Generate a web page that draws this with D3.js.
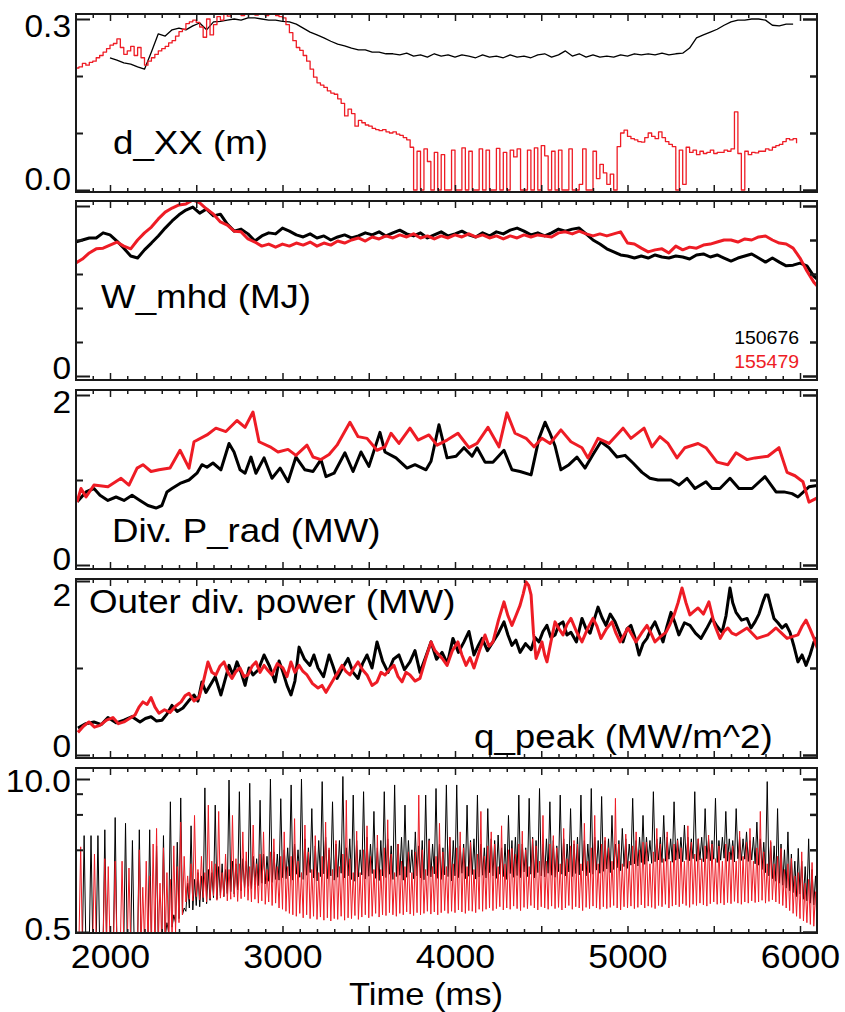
<!DOCTYPE html>
<html><head><meta charset="utf-8">
<script src="https://cdn.jsdelivr.net/npm/d3@7"></script>
<style>
body{margin:0;background:#fff}
text{font-family:"Liberation Sans",Arial,Helvetica,sans-serif}
</style>
</head><body>
<svg id="c" width="845" height="1012"></svg>
<script>
// ---------------- data ----------------
const shotBlack = "150676", shotRed = "155479";
const timeTicks = [2000, 3000, 4000, 5000, 6000];

// d_XX (m)
const dxxBlackStart = 2000, dxxBlackStep = 40;
const dxxBlack = [0.232,0.228,0.223,0.221,0.216,0.212,0.242,0.274,0.270,0.281,
0.284,0.281,0.288,0.293,0.281,0.295,0.296,0.298,0.300,0.298,
0.302,0.302,0.300,0.298,0.298,0.296,0.295,0.291,0.284,0.277,
0.272,0.267,0.261,0.256,0.253,0.249,0.246,0.246,0.242,0.242,
0.239,0.239,0.237,0.240,0.235,0.237,0.233,0.239,0.235,0.237,
0.233,0.237,0.235,0.232,0.237,0.233,0.235,0.232,0.237,0.233,
0.235,0.232,0.237,0.239,0.233,0.237,0.244,0.235,0.239,0.233,
0.237,0.233,0.235,0.233,0.237,0.235,0.239,0.237,0.239,0.237,
0.240,0.237,0.239,0.240,0.249,0.267,0.272,0.277,0.282,0.289,
0.295,0.298,0.298,0.300,0.300,0.298,0.289,0.288,0.291,0.291];
const dxxRedStart = 1800, dxxRedStep = 20;
const dxxRed = [0.214,0.216,0.222,0.219,0.224,0.226,0.232,0.236,0.242,0.248,
0.254,0.257,0.265,0.250,0.238,0.244,0.252,0.236,0.250,0.232,
0.219,0.226,0.232,0.238,0.244,0.248,0.252,0.258,0.262,0.270,
0.278,0.282,0.292,0.295,0.298,0.294,0.286,0.268,0.300,0.272,
0.290,0.304,0.298,0.308,0.305,0.310,0.308,0.312,0.306,0.310,
0.315,0.309,0.307,0.312,0.310,0.306,0.311,0.308,0.306,0.304,
0.302,0.290,0.276,0.262,0.250,0.245,0.236,0.226,0.212,0.198,
0.188,0.184,0.180,0.174,0.170,0.168,0.160,0.152,0.130,0.142,
0.134,0.112,0.122,0.118,0.114,0.112,0.108,0.106,0.104,0.106,
0.102,0.100,0.102,0.098,0.096,0.092,0.088,0.075,0,0.068,
0,0.072,0.05,0,0.066,0,0.062,0,0,0.07,
0,0,0.074,0,0.068,0,0,0.072,0,0.07,
0,0,0.073,0,0.066,0,0.07,0.058,0.072,0,
0,0.07,0,0.074,0,0.078,0.06,0,0.068,0,
0.07,0,0,0.072,0,0,0.01,0.072,0,0,
0.068,0.02,0.045,0.03,0.01,0.028,0,0.076,0.1,0.105,
0.094,0.09,0.088,0.085,0.084,0.092,0.1,0.094,0.09,0.102,
0.092,0.085,0.08,0.076,0,0.07,0.01,0.075,0.066,0.07,
0.062,0.068,0.064,0.066,0.07,0.064,0.066,0.066,0.07,0.068,
0.072,0.137,0.064,0,0.068,0.062,0.066,0.065,0.068,0.068,
0.072,0.07,0.075,0.078,0.08,0.085,0.09,0.088,0.09,0.082];

// W_mhd (MJ)
const wmhdStart = 1800, wmhdStep = 40;
const wmhdBlack = [3.94,4.0,4.06,4.06,4.21,4.15,3.97,3.76,3.53,3.47,
3.71,3.91,4.12,4.35,4.56,4.74,4.88,4.97,4.79,4.91,
4.71,4.76,4.47,4.26,4.32,4.18,3.97,4.12,4.21,4.18,
4.35,4.26,4.15,4.09,4.18,4.06,4.12,4.0,4.09,4.15,
4.06,4.12,4.21,4.15,4.24,4.12,4.21,4.29,4.18,4.12,
4.21,4.06,4.15,4.24,4.12,4.18,4.26,4.15,4.09,4.21,
4.12,4.24,4.18,4.29,4.35,4.26,4.15,4.21,4.12,4.21,
4.32,4.26,4.32,4.35,4.18,4.0,3.88,3.74,3.65,3.56,
3.53,3.47,3.53,3.47,3.56,3.50,3.47,3.53,3.50,3.44,
3.56,3.59,3.50,3.56,3.47,3.38,3.47,3.53,3.59,3.47,
3.35,3.47,3.35,3.24,3.26,3.32,3.24,2.94,2.76];
const wmhdRed = [3.32,3.44,3.62,3.74,3.76,3.85,3.94,3.82,3.74,4.0,
4.21,4.38,4.62,4.82,4.94,5.03,5.06,5.18,5.09,4.91,
4.76,4.53,4.44,4.26,4.24,4.03,3.94,3.82,3.88,3.79,
3.88,3.82,3.91,3.85,3.94,3.82,3.91,3.85,3.97,3.91,
4.0,4.06,3.97,4.09,4.03,4.12,4.06,4.15,4.09,4.18,
4.06,4.12,4.03,4.12,4.06,4.15,4.09,4.18,4.09,4.15,
4.06,4.12,4.03,4.12,4.06,4.15,4.09,4.15,4.12,4.09,
4.21,4.24,4.18,4.26,4.18,4.12,4.18,4.12,4.18,4.24,
3.91,3.88,3.76,3.65,3.71,3.74,3.62,3.82,3.71,3.79,
3.76,3.85,3.88,3.94,4.0,4.0,3.94,4.03,4.0,4.09,
4.12,4.0,3.91,3.88,3.76,3.47,3.09,2.76,2.53];

// Div. P_rad (MW)
const pradBlackT = [1810,1861,1907,1942,1988,2035,2081,2128,2174,2220,2267,2301,2330,2359,2406,2458,2504,2533,2562,2597,
2643,2690,2719,2754,2783,2817,2846,2893,2939,2986,3032,3078,3130,3177,3223,3252,3299,3362,3409,3455,
3501,3565,3594,3658,3722,3768,3832,3861,3907,3954,4006,4052,4099,4128,4174,4220,4284,4330,4377,4441,
4487,4522,4551,4580,4614,4661,4707,4754,4800,4846,4893,4939,4986,5032,5084,5130,5177,5252,5298,5345,
5391,5455,5490,5536,5594,5646,5722,5797,5861,5907,5954,5988,6052,6110];
const pradBlackV = [0.745,0.86,0.9,0.82,0.76,0.8,0.76,0.82,0.76,0.7,0.67,0.70,0.86,0.9,0.96,1.0,1.08,1.18,1.15,1.2,
1.12,1.43,1.33,1.12,1.08,1.27,1.08,1.26,1.02,1.14,0.98,1.27,1.12,1.1,1.24,1.04,1.08,1.32,1.1,1.33,
1.16,1.56,1.33,1.26,1.14,1.18,1.12,1.22,1.65,1.26,1.28,1.38,1.28,1.38,1.21,1.21,1.35,1.12,1.1,1.06,
1.49,1.68,1.55,1.4,1.12,1.18,1.27,1.14,1.3,1.45,1.38,1.27,1.29,1.2,1.09,1.02,1.0,1.0,0.94,1.02,
0.9,0.98,0.9,0.9,1.02,0.9,0.9,1.04,0.86,0.86,0.84,0.8,0.92,0.94];
const pradRedT = [1809,1832,1861,1907,1988,2064,2110,2157,2191,2238,2284,2348,2406,2458,2487,2562,2614,2672,2736,2783,
2829,2864,2928,2974,3032,3078,3142,3177,3223,3270,3316,3391,3438,3490,3548,3594,3629,3675,3739,3786,
3849,3896,3954,4017,4081,4128,4191,4255,4301,4348,4412,4458,4504,4551,4614,4672,4736,4771,4829,4893,
4974,5020,5096,5142,5188,5235,5287,5333,5409,5455,5519,5582,5629,5693,5739,5814,5878,5925,5971,6017,
6052,6110];
const pradRedV = [0.74,0.9,0.8,0.94,0.92,1.02,0.94,1.14,1.18,1.1,1.12,1.14,1.35,1.14,1.45,1.53,1.61,1.57,1.7,1.62,
1.8,1.45,1.39,1.33,1.36,1.29,1.41,1.27,1.24,1.3,1.41,1.68,1.51,1.49,1.35,1.39,1.55,1.43,1.61,1.47,
1.53,1.41,1.47,1.55,1.38,1.43,1.62,1.39,1.79,1.55,1.49,1.39,1.49,1.43,1.59,1.45,1.38,1.26,1.49,1.43,
1.61,1.49,1.61,1.39,1.51,1.43,1.26,1.38,1.43,1.38,1.21,1.18,1.32,1.24,1.26,1.28,1.38,1.09,1.05,0.98,
0.74,0.8];

// Outer div. power (MW): [time ms, value]
const powBlack = [[1814,0.31],[1860,0.36],[1907,0.38],[1950,0.35],[1988,0.43],[2035,0.37],[2081,0.40],[2128,0.44],
[2174,0.38],[2205,0.42],[2238,0.44],[2270,0.39],[2301,0.40],[2330,0.47],[2359,0.57],[2390,0.50],[2423,0.54],
[2455,0.62],[2487,0.69],[2510,0.62],[2533,0.84],[2556,0.72],[2580,0.80],[2610,0.90],[2643,0.69],[2665,0.85],
[2690,1.03],[2713,0.92],[2736,1.07],[2760,0.95],[2783,0.80],[2806,1.0],[2829,0.92],[2860,0.98],[2893,1.15],
[2925,1.02],[2957,0.84],[2980,1.08],[3003,0.95],[3026,0.80],[3049,0.69],[3072,0.85],[3096,1.24],[3128,1.1],
[3159,1.03],[3182,1.15],[3206,1.0],[3238,0.9],[3270,1.15],[3293,1.02],[3316,0.88],[3348,1.0],[3380,1.11],
[3409,0.95],[3438,0.88],[3464,1.05],[3490,1.15],[3519,1.0],[3548,1.3],[3580,1.08],[3612,0.95],[3643,1.1],
[3675,1.15],[3707,0.98],[3739,1.07],[3768,1.2],[3797,0.95],[3829,1.12],[3861,1.3],[3893,1.1],[3925,1.18],
[3956,1.05],[3988,1.34],[4020,1.18],[4052,1.3],[4081,1.42],[4110,1.15],[4133,1.25],[4157,1.34],[4188,1.2],
[4220,1.3],[4252,1.4],[4284,1.53],[4307,1.38],[4330,1.26],[4353,1.32],[4377,1.18],[4409,1.28],[4441,1.21],
[4464,1.35],[4487,1.3],[4510,1.42],[4533,1.49],[4556,1.35],[4580,1.38],[4603,1.5],[4626,1.53],[4649,1.38],
[4672,1.41],[4704,1.3],[4736,1.57],[4760,1.45],[4783,1.4],[4806,1.55],[4829,1.70],[4852,1.58],[4875,1.49],
[4900,1.62],[4928,1.53],[4951,1.42],[4974,1.3],[4997,1.45],[5020,1.49],[5043,1.35],[5067,1.15],[5090,1.28],
[5113,1.34],[5136,1.45],[5159,1.53],[5182,1.42],[5206,1.3],[5229,1.48],[5252,1.64],[5275,1.52],[5298,1.38],
[5330,1.52],[5362,1.49],[5394,1.4],[5426,1.34],[5458,1.45],[5490,1.57],[5519,1.48],[5548,1.41],[5571,1.6],
[5594,1.92],[5610,1.75],[5629,1.64],[5661,1.55],[5693,1.57],[5716,1.46],[5739,1.53],[5762,1.62],[5785,1.76],
[5800,1.84],[5814,1.84],[5832,1.7],[5849,1.57],[5872,1.52],[5896,1.46],[5919,1.5],[5942,1.41],[5965,1.25],
[5988,1.07],[6012,1.15],[6035,1.03],[6058,1.15],[6081,1.3],[6110,1.38]];
const powRed = [[1814,0.26],[1846,0.33],[1878,0.38],[1910,0.32],[1942,0.34],[1980,0.40],[2017,0.43],[2049,0.36],
[2081,0.38],[2113,0.42],[2145,0.46],[2168,0.55],[2191,0.61],[2215,0.58],[2238,0.66],[2261,0.55],[2284,0.48],
[2316,0.52],[2348,0.49],[2380,0.56],[2412,0.61],[2435,0.68],[2458,0.71],[2487,0.62],[2516,0.66],[2542,0.85],
[2568,1.07],[2591,0.95],[2614,0.92],[2637,1.02],[2661,1.07],[2684,0.95],[2707,0.88],[2730,0.96],[2754,1.0],
[2777,0.9],[2800,0.92],[2823,1.02],[2846,1.07],[2870,0.95],[2893,1.03],[2916,0.97],[2939,0.92],[2970,1.05],
[3003,1.0],[3026,0.9],[3049,1.07],[3072,0.95],[3096,1.03],[3119,0.96],[3142,0.92],[3174,0.82],[3206,0.77],
[3229,0.8],[3252,0.72],[3275,0.8],[3299,0.88],[3322,0.95],[3345,1.03],[3368,0.96],[3391,0.92],[3414,1.0],
[3438,1.07],[3464,0.98],[3490,0.92],[3519,0.8],[3548,0.84],[3571,0.95],[3594,0.92],[3620,0.98],[3646,1.03],
[3670,0.9],[3693,0.84],[3716,0.95],[3739,0.92],[3768,0.85],[3797,0.88],[3829,1.1],[3861,1.3],[3884,1.2],
[3907,1.15],[3930,1.1],[3954,1.03],[3985,1.2],[4017,1.3],[4040,1.15],[4064,1.03],[4087,1.12],[4110,1.0],
[4142,1.2],[4174,1.38],[4197,1.25],[4220,1.3],[4252,1.55],[4284,1.76],[4307,1.6],[4330,1.49],[4353,1.6],
[4377,1.72],[4395,1.85],[4412,1.99],[4427,1.95],[4441,1.84],[4455,1.4],[4470,1.11],[4487,1.2],[4504,1.3],
[4520,1.15],[4533,1.07],[4556,1.3],[4580,1.53],[4603,1.45],[4626,1.38],[4649,1.5],[4672,1.57],[4704,1.42],
[4736,1.3],[4768,1.45],[4800,1.57],[4823,1.48],[4846,1.34],[4878,1.45],[4910,1.53],[4933,1.4],[4957,1.3],
[4980,1.38],[5003,1.46],[5026,1.38],[5049,1.3],[5081,1.4],[5113,1.49],[5136,1.4],[5159,1.3],[5191,1.36],
[5223,1.41],[5246,1.5],[5270,1.61],[5293,1.75],[5316,1.92],[5339,1.75],[5362,1.61],[5385,1.65],[5409,1.69],
[5440,1.62],[5472,1.76],[5504,1.5],[5536,1.34],[5559,1.42],[5582,1.46],[5605,1.4],[5629,1.38],[5661,1.42],
[5693,1.46],[5722,1.4],[5751,1.34],[5782,1.36],[5814,1.38],[5838,1.42],[5861,1.46],[5893,1.4],[5925,1.34],
[5956,1.36],[5988,1.38],[6012,1.48],[6035,1.55],[6058,1.45],[6081,1.34],[6110,1.17]];

// q_peak (MW/m^2), log axis: per 20 ms bin, the low and the high reading
const qStart = 1800, qStep = 20;
const qBlackLo = [0.4,0.4,0.4,0.4,0.4,0.4,0.4,0.4,0.4,0.4,0.4,0.4,0.4,0.4,0.4,0.4,0.4,0.4,0.4,0.4,
0.4,0.4,0.4,0.4,0.4,0.4,0.45,0.5,0.55,0.6,0.65,0.7,
0.75,0.8,0.77,0.84,0.82,0.9,0.87,0.93,0.98,0.95,1.02,1.0,1.06,1.1,1.05,1.14,1.12,1.18,1.22,1.17,1.26,1.24,1.3,1.28,1.35,1.32,1.4,1.38,1.45,
1.42,1.5,1.38,1.55,1.46,1.4,1.52,1.6,1.44,1.36,
1.48,1.56,1.42,1.5,1.38,1.46,1.58,1.44,1.5,1.4,
1.35,1.47,1.53,1.41,1.49,1.57,1.43,1.37,1.5,1.45,
1.55,1.4,1.48,1.52,1.38,1.46,1.6,1.42,1.5,1.44,
1.39,1.51,1.47,1.56,1.43,1.4,1.53,1.48,1.36,1.5,
1.45,1.58,1.42,1.49,1.54,1.41,1.47,1.52,1.44,1.6,
1.5,1.43,1.55,1.48,1.4,1.57,1.46,1.51,1.45,1.62,
1.48,1.55,1.44,1.6,1.5,1.47,1.58,1.52,1.46,1.63,
1.55,1.5,1.62,1.48,1.57,1.53,1.66,1.5,1.6,1.55,
1.68,1.58,1.64,1.72,1.6,1.7,1.76,1.66,1.8,1.74,
1.85,1.9,1.82,1.95,1.88,2.0,1.92,1.98,2.05,1.95,
2.0,2.08,1.96,2.04,2.1,1.98,2.06,2.02,2.1,2.0,
2.05,1.98,2.1,2.02,2.08,1.95,2.04,2.12,2.0,2.06,1.97,2.1,2.03,2.08,1.99,2.05,1.9,1.85,1.7,1.6,1.5,1.42,1.35,1.3,
1.25,1.18,1.12,1.08,1.0,1.05,0.95,0.92,0.88,0.85,0.82];
const qBlackHi = [0.4,0.4,3.3,0.4,3.3,0.4,3.3,0.4,3.7,0.4,0.4,4.7,0.4,0.4,4.2,0.4,3.0,0.4,3.7,0.4,
0.4,3.7,0.45,2.7,0.5,3.3,0.6,6.4,0.7,2.9,6.9,0.8,
1.3,4.0,1.4,1.6,1.5,8.4,1.7,1.6,6.0,1.8,1.9,1.7,9.8,2.0,1.9,7.8,2.1,2.0,9.2,2.2,2.1,6.6,2.3,2.2,10.0,2.4,2.3,6.8,2.5,
2.6,
8.9,2.8,2.5, 10.0,3.1,2.6, 5.6,2.7,3.0, 9.5,3.2,2.5, 6.4,2.8,3.0, 10.5,2.6,3.1, 7.3,3.0,2.5, 7.8,3.2,2.8,
5.3,2.6,3.0, 7.8,3.1,2.7, 8.9,2.8,3.2, 6.0,3.0,2.5, 3.55,2.7,3.0, 7.3,3.1,2.8, 8.3,2.8,2.6, 8.9,3.2,3.0,
8.9,2.7,2.8, 6.0,3.0,3.1, 7.3,2.8,2.6, 5.6,3.1,3.0, 3.34,2.6,2.8, 4.9,3.0,3.2, 7.3,2.8,2.6, 6.85,3.2,3.0,
8.3,2.8,3.1, 6.4,3.0,2.7, 7.3,3.1,2.8, 5.6,2.8,3.2, 7.3,3.0,2.8, 8.3,3.2,3.0, 7.1,3.0,3.1, 4.9,2.8,3.0,
3.8,3.1,2.8, 6.85,3.0,3.2, 4.9,3.2,3.0, 7.8,3.1,3.2, 4.9,3.2,3.1, 6.4,3.1,3.2, 4.06,3.2,3.1, 7.8,3.1,3.2,
5.6,3.1,3.0, 6.85,3.0,3.2, 5.3,3.1,3.0, 5.6,3.2,3.1, 3.55,3.0,3.2, 4.3,3.1,2.9, 9.5,2.9,2.7, 5.6,2.8,2.5,
3.55,2.3,2.0, 2.57,2.0,1.8, 3.1,1.7,1.5,
1.2];
const qRedLo = [0.4,0.4,0.4,0.4,0.4,0.4,0.4,0.4,0.4,0.4,0.4,0.4,0.4,0.4,0.4,0.4,0.4,0.4,0.4,0.4,
0.4,0.4,0.4,0.4,0.4,0.4,0.4,0.4,0.45,0.5,0.6,0.7,
0.9,0.95,0.92,1.0,0.94,0.98,0.9,0.96,1.02,0.93,0.97,1.0,0.92,0.95,0.99,0.91,0.96,1.0,0.93,0.9,0.95,0.88,0.92,0.86,0.9,0.84,0.88,0.8,0.78,
0.75,0.72,0.7,0.68,0.72,0.66,0.7,0.65,0.68,0.64,
0.67,0.63,0.66,0.62,0.65,0.64,0.68,0.63,0.66,0.65,
0.69,0.64,0.67,0.7,0.66,0.68,0.72,0.67,0.7,0.69,
0.73,0.7,0.68,0.72,0.7,0.74,0.71,0.69,0.73,0.7,
0.72,0.75,0.71,0.74,0.7,0.73,0.76,0.72,0.75,0.73,
0.77,0.74,0.72,0.76,0.75,0.73,0.78,0.75,
0.78,0.8,0.76,0.79,0.82,0.77,0.8,0.78,0.83,0.79,
0.76,0.81,0.79,0.84,0.8,0.77,0.82,0.8,0.78,0.83,
0.79,0.81,0.77,0.8,0.84,0.78,0.82,0.8,0.76,0.81,
0.79,0.83,0.8,0.78,0.82,0.79,0.81,0.84,0.8,0.77,
0.82,0.8,0.83,0.79,0.81,0.85,0.8,0.83,0.81,0.79,
0.84,0.82,0.86,0.8,0.83,0.85,0.82,0.87,0.84,0.81,
0.86,0.84,0.88,0.85,0.83,0.87,0.9,0.86,0.88,0.85,
0.89,0.87,0.91,0.88,0.86,0.9,0.88,0.92,0.89,
0.9,0.93,0.88,0.91,0.94,0.9,0.87,0.84,0.8,0.76,0.72,0.68,0.65,0.62,0.6,0.58,0.56,0.55];
const qRedHi = [0.4,2.65,0.4,0.4,0.45,2.3,0.4,0.4,2.1,1.8,0.4,2.0,0.4,2.0,0.4,1.75,0.4,0.5,2.5,1.2,
2.0,1.5,2.8,3.8,1.3,2.6,1.6,1.4,2.7,1.8,4.3,2.2,
1.5,1.9,4.9,1.7,2.2,1.6,6.0,2.0,1.9,5.3,1.6,2.3,1.7,4.9,2.1,1.9,3.55,2.4,1.8,4.06,1.9,2.3,3.55,1.7,2.4,3.1,1.8,2.2,3.55,
1.8,2.2,
4.6,2.0,1.6, 4.06,2.4,1.7, 3.3,1.6,2.2, 4.3,2.6,1.7, 3.0,1.8,2.3, 6.6,2.1,1.6, 3.6,1.6,2.5, 4.0,2.2,1.7,
3.34,1.7,2.6, 4.5,2.3,1.6, 2.8,2.0,1.8, 2.4,1.6,2.4, 7.3,2.5,1.7, 3.0,1.8,2.2, 4.2,2.4,1.8, 3.2,1.9,2.6,
3.55,2.6,1.8, 2.9,1.7,2.3, 5.3,2.2,2.7, 3.55,2.8,1.8, 4.0,1.9,2.5, 2.57,2.3,2.8, 3.6,2.5,1.8, 3.1,2.7,2.0,
4.9,2.0,2.8, 3.3,2.6,1.9, 3.8,2.1,2.7, 3.0,2.8,1.9, 4.2,2.0,2.6, 4.9,1.9,2.8, 3.2,2.6,2.0, 6.85,2.8,1.9,
3.4,2.0,2.7, 3.55,2.5,2.9, 2.9,1.9,2.4, 3.8,2.8,2.1, 3.55,2.0,2.8, 3.0,2.6,2.0, 4.0,2.9,2.3, 3.1,2.1,2.7,
3.34,2.8,2.1, 2.7,2.0,2.8, 2.4,2.7,2.0, 3.6,2.2,2.9, 3.8,2.0,2.6, 5.3,2.4,1.9, 3.0,1.9,2.2, 2.57,1.7,1.9,
2.11,1.5,1.6, 2.4,1.3,1.4, 1.95,1.1,0.9];

// ---------------- drawing ----------------
const RED = "#ee1c25", BLACK = "#000";
const L = 76, R = 817, SX = 1.08;
const svg = d3.select("#c");
const x = d3.scaleLinear().domain([2000, 6000]).range([110, 800]);

const uniform = (start, step, vals) => vals.map((v, i) => ({t: start + i * step, v}));
const paired = (ts, vs) => ts.map((t, i) => ({t, v: vs[i]}));
const pairs = arr => arr.map(([t, v]) => ({t, v}));
// each bin drawn as its low reading followed by its high reading
const lowHigh = (start, step, lo, hi) => lo.flatMap((v, i) => [
  {t: start + i * step, v}, {t: start + i * step + step / 2, v: hi[i]}]);

const panels = [
  {top: 14, bottom: 192, y: d3.scaleLinear().domain([0, 0.3]).range([190, 19]),
   longT: [0, 0.3], shortT: [0.1, 0.2], lw: 1.3,
   labels: [["0.3", 37], ["0.0", 190]],
   series: [[uniform(dxxBlackStart, dxxBlackStep, dxxBlack), BLACK, d3.curveLinear],
            [uniform(dxxRedStart, dxxRedStep, dxxRed), RED, d3.curveStepAfter]]},
  {top: 201, bottom: 380, y: d3.scaleLinear().domain([0, 5]).range([376, 206]),
   longT: [0, 5], shortT: [1, 2, 3, 4], lw: 3,
   labels: [["0", 379]],
   series: [[uniform(wmhdStart, wmhdStep, wmhdBlack), BLACK, d3.curveLinear],
            [uniform(wmhdStart, wmhdStep, wmhdRed), RED, d3.curveLinear]]},
  {top: 390, bottom: 569, y: d3.scaleLinear().domain([0, 2]).range([565, 395]),
   longT: [0, 2], shortT: [1], lw: 3,
   labels: [["2", 413], ["0", 570]],
   series: [[paired(pradBlackT, pradBlackV), BLACK, d3.curveLinear],
            [paired(pradRedT, pradRedV), RED, d3.curveLinear]]},
  {top: 579, bottom: 758, y: d3.scaleLinear().domain([0, 2]).range([755, 581]),
   longT: [0, 2], shortT: [1], lw: 3,
   labels: [["2", 606], ["0", 757]],
   series: [[pairs(powBlack), BLACK, d3.curveLinear],
            [pairs(powRed), RED, d3.curveLinear]]},
  {top: 768, bottom: 933, y: d3.scaleLog().domain([0.5, 10]).range([932, 779]),
   longT: [0.5, 10], shortT: [2.5, 5, 7.5], lw: 1,
   labels: [["10.0", 792], ["0.5", 940]],
   series: [[lowHigh(qStart, qStep, qBlackLo, qBlackHi), BLACK, d3.curveLinear],
            [lowHigh(qStart, qStep, qRedLo, qRedHi), RED, d3.curveLinear]]}
];

const minorT = d3.range(1900, 6100, 100).filter(t => t % 500 !== 0);
const majorT = d3.range(2000, 6100, 500);

function styleAxis(g, w) {
  g.select(".domain").remove();
  g.selectAll(".tick line").attr("stroke", "#1a1a1a").attr("stroke-width", w);
}
function label(txt, tx, ty, size, anchor, col) {
  svg.append("text").attr("transform", `translate(${tx},${ty}) scale(${SX},1)`)
    .attr("text-anchor", anchor).attr("font-size", size).attr("fill", col || "#000").text(txt);
}

panels.forEach((p, k) => {
  const g = svg.append("g");
  const cid = "clip" + k;
  svg.append("clipPath").attr("id", cid).append("rect")
    .attr("x", L).attr("y", p.top).attr("width", R - L).attr("height", p.bottom - p.top);

  const lg = g.append("g").attr("clip-path", `url(#${cid})`);
  p.series.forEach(([data, col, curve]) => {
    const line = d3.line().curve(curve).x(d => x(d.t)).y(d => p.y(d.v));
    lg.append("path").datum(data).attr("d", line)
      .attr("fill", "none").attr("stroke", col).attr("stroke-width", p.lw)
      .attr("stroke-linejoin", "round");
  });

  g.append("rect").attr("x", L).attr("y", p.top).attr("width", R - L).attr("height", p.bottom - p.top)
    .attr("fill", "none").attr("stroke", "#1a1a1a").attr("stroke-width", 2);

  [[minorT, 4], [majorT, 7]].forEach(([vals, len]) => {
    g.append("g").attr("transform", `translate(0,${p.bottom})`)
      .call(d3.axisBottom(x).tickValues(vals).tickSize(-len).tickFormat(""))
      .call(s => styleAxis(s, 1.5));
    g.append("g").attr("transform", `translate(0,${p.top})`)
      .call(d3.axisTop(x).tickValues(vals).tickSize(-len).tickFormat(""))
      .call(s => styleAxis(s, 1.5));
  });
  [[p.longT, 14], [p.shortT, 7]].forEach(([vals, len]) => {
    g.append("g").attr("transform", `translate(${L},0)`)
      .call(d3.axisLeft(p.y).tickValues(vals).tickSize(-len).tickFormat(""))
      .call(s => styleAxis(s, 2));
    g.append("g").attr("transform", `translate(${R},0)`)
      .call(d3.axisRight(p.y).tickValues(vals).tickSize(-len).tickFormat(""))
      .call(s => styleAxis(s, 2.5));
  });

  p.labels.forEach(([txt, yb]) => label(txt, 71, yb, 31, "end"));
});

// bottom axis labels
const xa = svg.append("g").attr("transform", `translate(0,${panels[4].bottom})`)
  .call(d3.axisBottom(x).tickValues(timeTicks).tickSize(0).tickPadding(12).tickFormat(d3.format("d")));
xa.select(".domain").remove();
xa.selectAll("text").attr("font-size", 33).attr("fill", "#000")
  .attr("font-family", '"Liberation Sans",Arial,Helvetica,sans-serif')
  .attr("transform", `scale(${SX},1)`);

label("Time (ms)", 426, 1005, 32, "middle");

// panel titles
[["d_XX (m)", 113, 154], ["W_mhd (MJ)", 101, 308], ["Div. P_rad (MW)", 112, 542],
 ["Outer div. power (MW)", 89, 613], ["q_peak (MW/m^2)", 474, 748]]
  .forEach(([t, tx, ty]) => label(t, tx, ty, 34, "start"));

// legend
label(shotBlack, 799, 344, 18, "end", BLACK);
label(shotRed, 799, 368, 18, "end", RED);
</script>
</body></html>
